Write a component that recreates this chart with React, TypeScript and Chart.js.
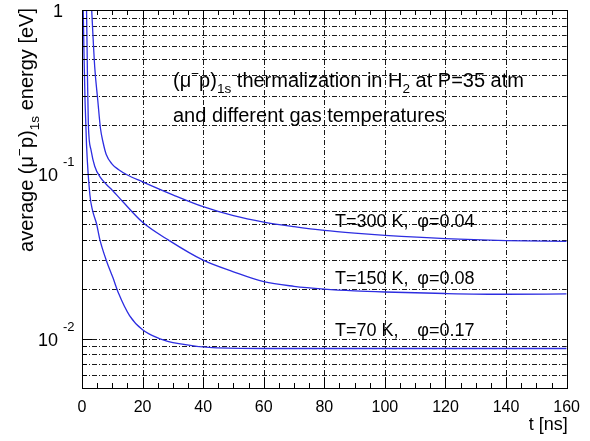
import React, { useEffect, useRef } from "react";
import { Chart, registerables } from "chart.js";

Chart.register(...registerables);

// ---- data ----
const t300 = [2.9, 3.2, 4.2, 5.2, 6.1, 7, 8, 10, 12, 15, 20, 30, 40, 50, 60, 70, 80, 90, 100, 120, 140, 160];
const e300 = [1.3, 1.0, 0.45, 0.283, 0.19, 0.155, 0.132, 0.115, 0.107, 0.099, 0.09, 0.075, 0.0635, 0.056, 0.0512, 0.048, 0.0455, 0.0438, 0.0425, 0.0406, 0.0395, 0.039];

const t150 = [1.3, 1.5, 1.8, 2.1, 3, 4.2, 6, 8, 10, 13.5, 20, 28.7, 40, 50, 60, 70, 80, 90, 100, 120, 140, 160];
const e150 = [1.4, 1.0, 0.4, 0.2, 0.14, 0.112, 0.096, 0.087, 0.08, 0.068, 0.051, 0.0396, 0.03, 0.0255, 0.0222, 0.0208, 0.02, 0.0195, 0.0192, 0.0188, 0.0186, 0.0187];

const t70 = [0.3, 0.4, 0.7, 1.0, 1.5, 2.6, 3.5, 4.8, 5.9, 8, 10.2, 12, 15.7, 20, 25.5, 32, 43, 60, 80, 100, 120, 140, 160];
const e70 = [1.4, 1.0, 0.5, 0.28, 0.15, 0.075, 0.06, 0.05, 0.04, 0.03, 0.0235, 0.019, 0.0138, 0.0113, 0.01, 0.0093, 0.0088, 0.0087, 0.0087, 0.0087, 0.0087, 0.0087, 0.0087];

const xTicks = [0, 20, 40, 60, 80, 100, 120, 140, 160];
const yMajor = [1, 0.1, 0.01];
const yMajorExp = ["", "-1", "-2"];
const yGrid = [0.006, 0.007, 0.008, 0.009, 0.01, 0.02, 0.03, 0.04, 0.05, 0.06, 0.07, 0.08, 0.09, 0.1, 0.2, 0.3, 0.4, 0.5, 0.6, 0.7, 0.8, 0.9];
const xGrid = [20, 40, 60, 80, 100, 120, 140];
const curveLabels = [
  { temp: "T=300 K,", phi: "\u03c6=0.04", y: 0.048 },
  { temp: "T=150 K,", phi: "\u03c6=0.08", y: 0.0215 },
  { temp: "T=70 K,", phi: "\u03c6=0.17", y: 0.01035 },
];

const FAMILY = "'Liberation Sans', Arial, Helvetica, sans-serif";
const BLUE = "rgb(45,45,225)";

type Seg = { t: string; m: "n" | "sup" | "sub" };

function richWidth(ctx: CanvasRenderingContext2D, segs: Seg[], size: number) {
  let w = 0;
  for (const s of segs) {
    const fs = s.m === "n" ? size : size * 0.68;
    ctx.font = `${fs}px ${FAMILY}`;
    w += ctx.measureText(s.t).width;
  }
  return w;
}

function drawRich(ctx: CanvasRenderingContext2D, segs: Seg[], x: number, y: number, size: number) {
  let cx = x;
  ctx.textAlign = "left";
  ctx.textBaseline = "alphabetic";
  for (const s of segs) {
    const fs = s.m === "n" ? size : size * 0.68;
    ctx.font = `${fs}px ${FAMILY}`;
    const dy = s.m === "sup" ? -size * 0.45 : s.m === "sub" ? size * 0.32 : 0;
    ctx.fillText(s.t, cx, y + dy);
    cx += ctx.measureText(s.t).width;
  }
}

const decorPlugin = {
  id: "decor",
  beforeDatasetsDraw(chart: any) {
    const { ctx, chartArea: a, scales } = chart;
    const xs = scales.x, ys = scales.y;
    ctx.save();
    ctx.strokeStyle = "rgba(0,0,0,0.9)";
    ctx.lineWidth = 1;
    ctx.setLineDash([5, 2, 1, 2]);
    for (const v of yGrid) {
      const py = Math.round(ys.getPixelForValue(v)) + 0.5;
      ctx.beginPath();
      ctx.moveTo(a.left, py);
      ctx.lineTo(a.right, py);
      ctx.stroke();
    }
    for (const v of xGrid) {
      const px = Math.round(xs.getPixelForValue(v)) + 0.5;
      ctx.beginPath();
      ctx.moveTo(px, a.top);
      ctx.lineTo(px, a.bottom);
      ctx.stroke();
    }
    ctx.restore();
  },
  afterDatasetsDraw(chart: any) {
    const { ctx, chartArea: a, scales } = chart;
    const xs = scales.x, ys = scales.y;
    ctx.save();
    ctx.setLineDash([]);
    ctx.strokeStyle = "#000";
    ctx.lineWidth = 1;
    // frame
    ctx.strokeRect(Math.round(a.left) + 0.5, Math.round(a.top) + 0.5, Math.round(a.right - a.left), Math.round(a.bottom - a.top));
    // x ticks (bottom & top)
    for (let v = 0; v <= 160; v += 5) {
      const px = Math.round(xs.getPixelForValue(v)) + 0.5;
      const len = v % 20 === 0 ? 10 : 5;
      ctx.beginPath();
      ctx.moveTo(px, a.bottom);
      ctx.lineTo(px, a.bottom - len);
      ctx.moveTo(px, a.top);
      ctx.lineTo(px, a.top + len);
      ctx.stroke();
    }
    // y ticks (left)
    for (const v of yGrid.concat(yMajor)) {
      const py = Math.round(ys.getPixelForValue(v)) + 0.5;
      const len = yMajor.includes(v) ? 10 : 5;
      ctx.beginPath();
      ctx.moveTo(a.left, py);
      ctx.lineTo(a.left + len, py);
      ctx.stroke();
    }
    ctx.fillStyle = "#000";
    // y tick labels
    yMajor.forEach((v, i) => {
      const py = ys.getPixelForValue(v);
      if (yMajorExp[i] === "") {
        ctx.font = `18px ${FAMILY}`;
        ctx.textAlign = "right";
        ctx.textBaseline = "alphabetic";
        ctx.fillText("1", a.left - 19, py + 7);
      } else {
        ctx.font = `18px ${FAMILY}`;
        ctx.textAlign = "right";
        ctx.textBaseline = "alphabetic";
        ctx.fillText("10", a.left - 24, py + 7);
        ctx.font = `13px ${FAMILY}`;
        ctx.textAlign = "left";
        ctx.fillText(yMajorExp[i], a.left - 19, py - 8);
      }
    });
    // x axis title
    ctx.font = `18px ${FAMILY}`;
    ctx.textAlign = "right";
    ctx.textBaseline = "alphabetic";
    ctx.fillText("t [ns]", a.right + 1, a.bottom + 42);
    // y axis title (rotated)
    const ySegs: Seg[] = [
      { t: "average (\u03bc", m: "n" },
      { t: "\u2212", m: "sup" },
      { t: "p)", m: "n" },
      { t: "1s", m: "sub" },
      { t: " energy [eV]", m: "n" },
    ];
    const yw = richWidth(ctx, ySegs, 20);
    ctx.save();
    ctx.translate(33, 130);
    ctx.rotate(-Math.PI / 2);
    drawRich(ctx, ySegs, -yw / 2, 0, 20);
    ctx.restore();
    // in-plot title
    const l1: Seg[] = [
      { t: "(\u03bc", m: "n" },
      { t: "\u2212", m: "sup" },
      { t: "p)", m: "n" },
      { t: "1s", m: "sub" },
      { t: " thermalization in H", m: "n" },
      { t: "2", m: "sub" },
      { t: " at P=35 atm", m: "n" },
    ];
    drawRich(ctx, l1, 173, 87, 20);
    drawRich(ctx, [{ t: "and different gas temperatures", m: "n" }], 173, 122, 20);
    // curve labels
    ctx.font = `18px ${FAMILY}`;
    ctx.textAlign = "left";
    ctx.textBaseline = "alphabetic";
    for (const c of curveLabels) {
      const py = ys.getPixelForValue(c.y);
      ctx.fillText(c.temp, xs.getPixelForValue(83.5), py);
      ctx.fillText(c.phi, xs.getPixelForValue(110.7), py);
    }
    ctx.restore();
  },
};

export default function App() {
  const ref = useRef<HTMLCanvasElement | null>(null);
  useEffect(() => {
    if (!ref.current) return;
    const mk = (xs: number[], ys: number[]) => xs.map((x, i) => ({ x, y: ys[i] }));
    const ds = (d: any[]) => ({
      data: d,
      borderColor: BLUE,
      borderWidth: 1.3,
      pointRadius: 0,
      fill: false,
      cubicInterpolationMode: "monotone" as const,
      clip: 0,
    });
    const chart = new Chart(ref.current, {
      type: "line",
      data: {
        datasets: [ds(mk(t300, e300)), ds(mk(t150, e150)), ds(mk(t70, e70))],
      },
      options: {
        animation: false,
        responsive: false,
        devicePixelRatio: 1,
        layout: { padding: { top: 10, right: 18, left: 0, bottom: 0 } },
        plugins: { legend: { display: false }, tooltip: { enabled: false } },
        scales: {
          x: {
            type: "linear",
            min: 0,
            max: 160,
            afterFit: (s: any) => { s.height = 53; },
            afterBuildTicks: (s: any) => { s.ticks = xTicks.map((v) => ({ value: v })); },
            grid: { display: false, drawTicks: false },
            border: { display: false },
            ticks: { color: "#000", padding: 10, font: { family: FAMILY, size: 16 }, maxRotation: 0, autoSkip: false },
          },
          y: {
            type: "logarithmic",
            min: 0.005,
            max: 1,
            afterFit: (s: any) => { s.width = 82; },
            grid: { display: false, drawTicks: false },
            border: { display: false },
            ticks: { display: false },
          },
        },
      },
      plugins: [decorPlugin],
    });
    return () => chart.destroy();
  }, []);
  return (
    <div style={{ position: "fixed", left: 0, top: 0, width: 590, height: 441, background: "#fff" }}>
      <canvas ref={ref} width={590} height={441} style={{ display: "block", width: 590, height: 441 }} />
    </div>
  );
}
